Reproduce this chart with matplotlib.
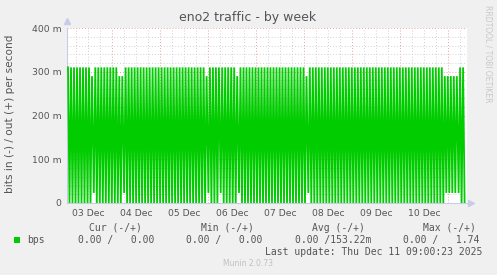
import numpy as np
import matplotlib.pyplot as plt

# hours after 03 Dec 00:00; inside a run there is one sample every 45 min
step_h = 0.75
run_start = [2.0, 14.9, 30.05, 72.2, 78.35, 87.5, 122.15, 197.3]
# H = high peak, h = lower peak, L = zero, l = small low value
run_samples = [
    "HLHLHLHLHLHLHLHLh",
    "lHLHLHLHLHLHLHLHLhLh",
    "l" "HLHLHLHLHL" "HLHLHLHLHL" "HLHLHLHLHL" "HLHLHLHLHL" "HLHLHLHLHL" "HLHL" "h",
    "lHLHLHLH",
    "lHLHLHLHLHLh",
    "l" "HLHLHLHLHL" "HLHLHLHLHL" "HLHLHLHLHL" "HLHLHLHLHL" "HLHL" "h",
    "l" "HLHLHLHLHL" "HLHLHLHLHL" "HLHLHLHLHL" "HLHLHLHLHL" "HLHLHLHLHL"
    "HLHLHLHLHL" "HLHLHLHLHL" "HLHLHLHLHL" "HLHLHLHLHL" "hlhlhlhlh",
    "lHLHL",
]
levels = {"H": 0.31, "h": 0.29, "L": 0.0, "l": 0.023}

day_labels = ["03 Dec", "04 Dec", "05 Dec", "06 Dec", "07 Dec", "08 Dec", "09 Dec", "10 Dec"]
label_hours = [12, 36, 60, 84, 108, 132, 156, 180]
y_ticks = [0, 0.1, 0.2, 0.3, 0.4]
y_labels = ["0", "100 m", "200 m", "300 m", "400 m"]

legend_head = ["Cur (-/+)", "Min (-/+)", "Avg (-/+)", "Max (-/+)"]
legend_vals = ["0.00 /   0.00", "0.00 /   0.00", "0.00 /153.22m", "0.00 /   1.74"]

t = []
v = []
for start, s in zip(run_start, run_samples):
    for i, c in enumerate(s):
        t.append(start + i * step_h)
        v.append(levels[c])

W, H = 497, 275
fig = plt.figure(figsize=(W / 100, H / 100), dpi=100, facecolor="#F0F0F0")
ax = fig.add_axes([67 / W, 1 - 203 / H, 400 / W, 175 / H])
ax.set_facecolor("white")

x0, x1 = 1.5, 201.5
ax.set_xlim(x0, x1)
ax.set_ylim(0, 0.4)

# grid
for h in range(6, 201, 6):
    col = "#EBA0A0" if h % 24 == 0 else "#D2D2D2"
    ax.axvline(h, color=col, lw=0.7, ls=(0, (1, 2)), zorder=1)
for k in range(1, 21):
    col = "#EBA0A0" if k % 5 == 0 else "#D2D2D2"
    ax.axhline(k * 0.02, color=col, lw=0.7, ls=(0, (1, 2)), zorder=1)

ax.plot(t, v, color="#00CC00", lw=1.3, zorder=3, solid_joinstyle="miter")

ax.set_xticks(label_hours, day_labels)
ax.set_yticks(y_ticks, y_labels)
ax.tick_params(length=0, labelsize=6.7, colors="#555555", pad=4)
for sp in ["top", "right"]:
    ax.spines[sp].set_visible(False)
for sp in ["left", "bottom"]:
    ax.spines[sp].set_color("#C8CCE8")
    ax.spines[sp].set_linewidth(0.8)
# axis arrows
ax.plot([x0], [0.415], marker="^", ms=4, color="#C8CCE8", clip_on=False, zorder=4)
ax.plot([x1 + 2], [0], marker=">", ms=4, color="#C8CCE8", clip_on=False, zorder=4)

ax.set_ylabel("bits in (-) / out (+) per second", fontsize=7.6, color="#555555")
ax.yaxis.set_label_coords((15 - 67) / 400, 0.51)

fig.text(248 / W, 1 - 17 / H, "eno2 traffic - by week", ha="center", va="center",
         fontsize=9, color="#555555")
fig.text(488 / W, 1 - 5 / H, "RRDTOOL / TOBI OETIKER", ha="center", va="top",
         rotation=270, fontsize=5.5, color="#C8C8C8")

mono = "DejaVu Sans Mono"
head_x = [89, 201, 312, 423]
val_x = [78, 186, 295, 403]
for x, s in zip(head_x, legend_head):
    fig.text(x / W, 1 - 228 / H, s, ha="left", va="center", family=mono, fontsize=7, color="#555555")
for x, s in zip(val_x, legend_vals):
    fig.text(x / W, 1 - 240 / H, s, ha="left", va="center", family=mono, fontsize=7, color="#555555")
fig.patches.append(plt.Rectangle((14 / W, 1 - 243 / H), 6 / W, 6 / H, transform=fig.transFigure,
                                 facecolor="#00CC00", edgecolor="none"))
fig.text(27 / W, 1 - 240 / H, "bps", ha="left", va="center", family=mono, fontsize=7, color="#555555")
fig.text(482 / W, 1 - 252 / H, "Last update: Thu Dec 11 09:00:23 2025", ha="right", va="center",
         family=mono, fontsize=7, color="#555555")
fig.text(248 / W, 1 - 264 / H, "Munin 2.0.73", ha="center", va="center", fontsize=5.5, color="#C0C0C0")

fig.savefig("out.png", dpi=100, facecolor=fig.get_facecolor())
